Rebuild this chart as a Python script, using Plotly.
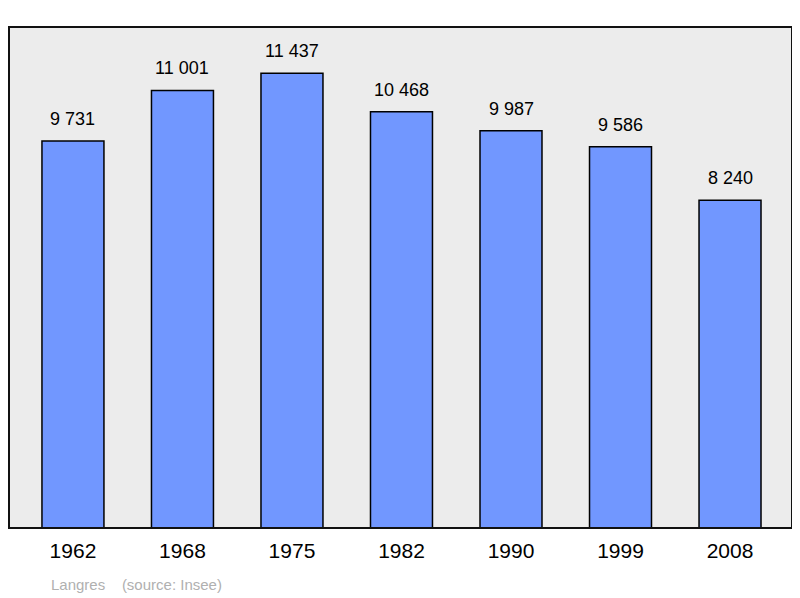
import plotly.graph_objects as go

years = ["1962", "1968", "1975", "1982", "1990", "1999", "2008"]
population = [9731, 11001, 11437, 10468, 9987, 9586, 8240]
labels = ["9 731", "11 001", "11 437", "10 468", "9 987", "9 586", "8 240"]

xs = list(range(len(years)))
fig = go.Figure(go.Bar(
    x=xs, y=population, width=0.566,
    marker=dict(color="#7197ff", line=dict(color="black", width=1.5)),
))
for x, y, t in zip(xs, population, labels):
    fig.add_annotation(x=x, y=y, text=t, showarrow=False, yanchor="bottom", yshift=10,
                       font=dict(size=18, color="black"))
fig.update_layout(
    width=792, height=590, margin=dict(l=1, r=8, t=19, b=70),
    paper_bgcolor="white", plot_bgcolor="#ececec", showlegend=False,
    font=dict(family="Liberation Sans, Arial"),
    xaxis=dict(range=[-0.584, 6.566], tickvals=xs, ticktext=years, showgrid=False,
               zeroline=False, tickfont=dict(size=21, color="black"), ticks="",
               ticklabelstandoff=8),
    yaxis=dict(range=[0, 12597], visible=False, showgrid=False),
    shapes=[dict(type="rect", xref="paper", yref="paper", x0=0, x1=1, y0=0, y1=1,
                 line=dict(color="#111", width=2))],
)
fig.add_annotation(text="Langres    (source: Insee)", xref="paper", yref="paper",
                   x=0.051, y=-0.112, xanchor="left", yanchor="middle", showarrow=False,
                   font=dict(size=15, color="#b0b0b0"))
fig.write_html("out.html")
